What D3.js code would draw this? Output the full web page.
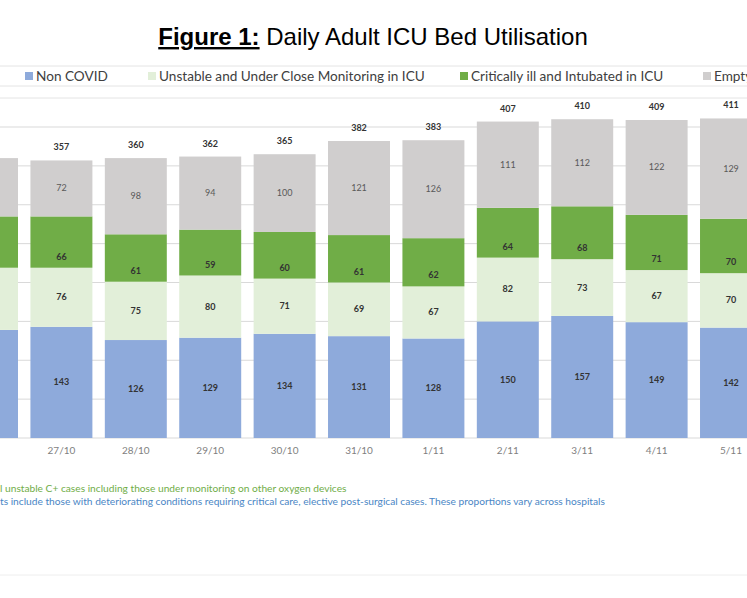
<!DOCTYPE html>
<html><head><meta charset="utf-8">
<script src="https://cdn.jsdelivr.net/npm/d3@7"></script>
<style>body{margin:0;background:#fff}svg{display:block}</style>
</head><body>
<svg id="chart" width="747" height="598"></svg>
<script>
var dates = ["26/10","27/10","28/10","29/10","30/10","31/10","1/11","2/11","3/11","4/11","5/11"];
var nonCovid = [139,143,126,129,134,131,128,150,157,149,142];
var unstable = [80,76,75,80,71,69,67,82,73,67,70];
var critical = [66,66,61,59,60,61,62,64,68,71,70];
var empty = [75,72,98,94,100,121,126,111,112,122,129];
var totals = [360,357,360,362,365,382,383,407,410,409,411];

var series = [
  {name:"Non COVID", values:nonCovid, color:"#8eaadb"},
  {name:"Unstable and Under Close Monitoring in ICU", values:unstable, color:"#e2efd9"},
  {name:"Critically ill and Intubated in ICU", values:critical, color:"#70ad47"},
  {name:"Empty", values:empty, color:"#d0cece"}
];

var svg = d3.select("#chart");
var font = "Lato, 'Open Sans', sans-serif";

var x = d3.scaleBand().domain(dates).range([-56.4, -56.4 + 74.4*11.167]).padding(0.167);
var y = d3.scaleLinear().domain([0, 400]).range([438, 127]);

// title
var t = svg.append("text").attr("x", 373).attr("y", 45).attr("text-anchor", "middle")
  .attr("font-family", "Arial, 'Liberation Sans', sans-serif").attr("font-size", 24).attr("fill", "#000");
t.append("tspan").attr("font-weight", "bold").attr("text-decoration", "underline").text("Figure 1:");
t.append("tspan").text(" Daily Adult ICU Bed Utilisation");

// frame lines
svg.append("line").attr("x1",0).attr("x2",747).attr("y1",66).attr("y2",66).attr("stroke","#e4e4e4");
svg.append("line").attr("x1",0).attr("x2",747).attr("y1",86).attr("y2",86).attr("stroke","#e4e4e4");
svg.append("line").attr("x1",0).attr("x2",747).attr("y1",98).attr("y2",98).attr("stroke","#e4e4e4");
svg.append("line").attr("x1",0).attr("x2",747).attr("y1",575).attr("y2",575).attr("stroke","#eeeeee");

// legend
var legX = [25, 148, 460, 703];
series.forEach(function(s, i) {
  svg.append("rect").attr("x", legX[i]).attr("y", 72).attr("width", 8).attr("height", 8).attr("fill", s.color);
  svg.append("text").attr("x", legX[i] + 11).attr("y", 81).attr("font-family", font)
    .attr("font-size", 13.6).attr("fill", "#404040").text(s.name);
});

// gridlines
svg.append("g").selectAll("line").data(y.ticks(8)).join("line")
  .attr("x1", 0).attr("x2", 747).attr("y1", d => y(d)).attr("y2", d => y(d))
  .attr("stroke", "#d9d9d9").attr("stroke-width", 1);

// stacked bars
var stackData = dates.map((d, i) => ({date: d, s0: nonCovid[i], s1: unstable[i], s2: critical[i], s3: empty[i]}));
var stack = d3.stack().keys(["s0","s1","s2","s3"])(stackData);

stack.forEach(function(layer, li) {
  var g = svg.append("g");
  g.selectAll("rect").data(layer).join("rect")
    .attr("x", d => x(d.data.date)).attr("width", x.bandwidth())
    .attr("y", d => y(d[1])).attr("height", d => y(d[0]) - y(d[1]))
    .attr("fill", series[li].color);
  // first bar is cut by the page edge, its labels are hidden there
  g.selectAll("text").data(layer.slice(1)).join("text")
    .attr("x", d => x(d.data.date) + x.bandwidth()/2)
    .attr("y", d => li == 2 ? y(d[0]) - 8 : (y(d[0]) + y(d[1]))/2 + 3)
    .attr("text-anchor", "middle").attr("font-family", font).attr("font-size", 9)
    .attr("font-weight", li == 3 ? "normal" : "bold")
    .attr("fill", li == 3 ? "#595959" : "#333")
    .text(d => d.data["s" + li]);
});

// totals
svg.append("g").selectAll("text").data(dates.slice(1)).join("text")
  .attr("x", d => x(d) + x.bandwidth()/2)
  .attr("y", (d, i) => y(totals[i + 1]) - 10)
  .attr("text-anchor", "middle").attr("font-family", font).attr("font-size", 9)
  .attr("font-weight", "bold").attr("fill", "#333")
  .text((d, i) => totals[i + 1]);

// x axis labels
svg.append("g").selectAll("text").data(dates.slice(1)).join("text")
  .attr("x", d => x(d) + x.bandwidth()/2).attr("y", 454)
  .attr("text-anchor", "middle").attr("font-family", font).attr("font-size", 10)
  .attr("fill", "#7f7f7f").text(d => d);

// footnotes
svg.append("text").attr("x", 0).attr("y", 492).attr("font-family", font).attr("font-size", 10.2)
  .attr("fill", "#70ad47").text("l unstable C+ cases including those under monitoring on other oxygen devices");
svg.append("text").attr("x", 0).attr("y", 505).attr("font-family", font).attr("font-size", 10.2)
  .attr("fill", "#4a86c5").text("ts include those with deteriorating conditions requiring critical care, elective post-surgical cases. These proportions vary across hospitals");
</script>
</body></html>
